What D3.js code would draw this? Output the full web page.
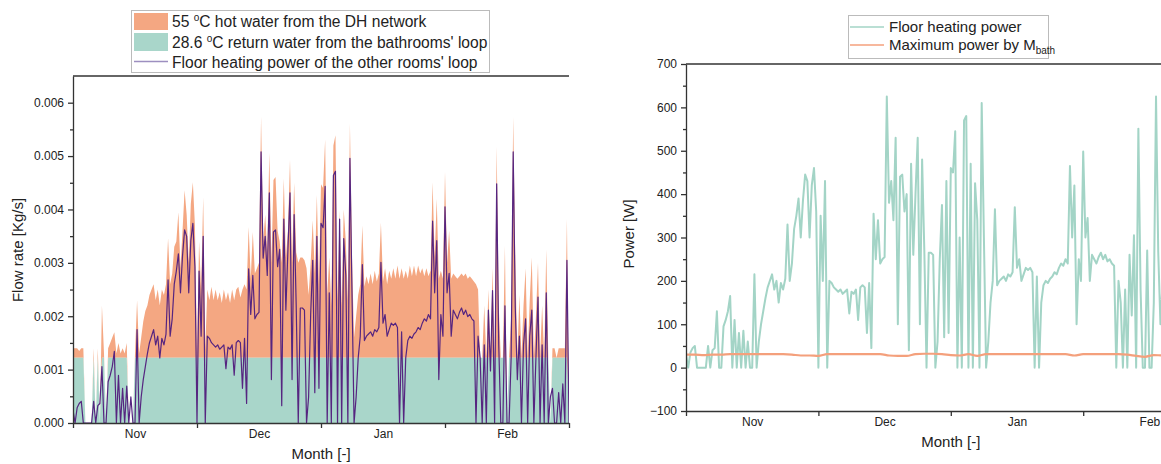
<!DOCTYPE html>
<html>
<head>
<meta charset="utf-8">
<script src="https://cdn.jsdelivr.net/npm/d3@7"></script>
<style>
  body { margin: 0; background: #fff; }
  text { font-family: "Liberation Sans", Arial, sans-serif; fill: #222; }
  .axis path, .axis line { stroke: #333; stroke-width: 1.3; }
  .axis text { font-size: 12px; fill: #222; }
  .title { font-size: 15px; }
  .legend text { font-size: 15px; }
  .legend.wide text { font-size: 15.6px; }
</style>
</head>
<body>
<svg id="chart" width="1161" height="464"></svg>
<script>
// month axis (days from 1 Nov, equal month widths as in the source figure)
const months = ['Nov', 'Dec', 'Jan', 'Feb']
const monthBounds = [0, 30, 60, 90, 120]
const monthMids = [15, 45, 75, 105]

const flowTicks = [0, 0.001, 0.002, 0.003, 0.004, 0.005, 0.006]
const flowMinorTicks = [0.0005, 0.0015, 0.0025, 0.0035, 0.0045, 0.0055]
const powerTicks = [-100, 0, 100, 200, 300, 400, 500, 600, 700]
const powerMinorTicks = [-50, 50, 150, 250, 350, 450, 550, 650]

// samples every half day
const sampleDays = 0.5

// floor heating power of the other rooms' loop [W]
const floorPower = [
  30, 0, 35, 45, 50, 0, 0, 0, 0, 0, 50, 0, 40, 45, 130, 0, 0, 95, 110, 130,
  165, 0, 110, 0, 80, 0, 85, 0, 60, 0, 0, 215, 0, 60, 100, 130, 160, 185, 200, 215,
  180, 200, 150, 195, 180, 205, 330, 200, 240, 320, 350, 390, 300, 385, 445, 430, 300, 420, 460, 360,
  0, 350, 200, 430, 0, 200, 195, 185, 180, 175, 180, 170, 175, 180, 125, 175, 170, 180, 110, 185,
  190, 185, 80, 195, 45, 355, 250, 340, 240, 250, 255, 625, 380, 430, 340, 530, 100, 440, 445, 360,
  400, 40, 470, 260, 400, 530, 100, 480, 270, 0, 265, 265, 260, 0, 60, 250, 375, 70, 430, 80,
  460, 450, 545, 0, 300, 0, 570, 580, 0, 470, 0, 425, 340, 0, 610, 300, 0, 60, 150, 200,
  365, 190, 200, 205, 210, 200, 215, 210, 220, 370, 230, 250, 200, 215, 230, 225, 230, 220, 0, 210,
  0, 150, 190, 200, 195, 205, 210, 220, 215, 230, 240, 235, 250, 240, 465, 300, 420, 100, 250, 200,
  498, 300, 345, 200, 260, 250, 240, 255, 265, 250, 260, 245, 250, 240, 235, 0, 200, 150, 0, 180,
  0, 260, 120, 305, 0, 551, 180, 0, 0, 270, 0, 0, 150, 625, 267, 100, 200, 0, 180, 240,
  0, 200, 260, 0, 150, 290, 0, 180, 0, 300, 0, 60, 80, 0, 0, 70, 0, 90, 0, 375, 0
]

// total supply flow (hot water + bathroom return) [1e-3 kg/s]
const totalFlowMilli = [
  1.4, 1.4, 1.4, 1.35, 1.4, 1.4, 0, 0, 0, 0, 1.4, 0, 1.4, 0, 2.2, 1.3, 0, 1.4, 1.5, 1.6,
  1.7, 1.3, 1.5, 1.3, 1.4, 1.3, 1.5, 0, 0, 0, 1.3, 2.3, 1.3, 1.6, 1.9, 2.1, 2.2, 2.4, 2.5, 2.6,
  2.3, 2.5, 2.2, 2.5, 2.4, 2.6, 3.46, 2.6, 2.8, 3.3, 3.4, 3.95, 2.9, 3.6, 4.36, 3.9, 3.0, 4.1, 4.51, 3.7,
  1.3, 3.4, 2.5, 4.23, 1.4, 2.5, 2.3, 2.55, 2.3, 2.5, 2.3, 2.45, 2.25, 2.5, 2.3, 2.45, 2.25, 2.5, 2.3, 2.5,
  2.55, 2.35, 2.5, 2.6, 2.5, 3.67, 2.7, 3.58, 2.8, 2.9, 3.0, 5.74, 3.4, 3.9, 3.2, 5.06, 3.0, 4.55, 4.61, 3.6,
  3.4, 3.0, 4.58, 3.1, 3.6, 4.93, 3.0, 4.5, 3.2, 3.0, 3.1, 3.1, 3.05, 2.9, 2.4, 3.0, 3.8, 2.8, 4.27, 2.6,
  4.47, 4.4, 5.31, 2.4, 3.1, 2.2, 5.2, 5.39, 2.3, 3.98, 2.2, 4.0, 3.4, 2.3, 5.61, 3.1, 1.6, 2.0, 2.4, 2.6,
  3.7, 2.55, 2.75, 2.6, 2.8, 2.6, 2.85, 2.65, 2.8, 3.75, 2.65, 2.9, 2.6, 2.85, 2.7, 2.9, 2.7, 2.95, 2.7, 2.9,
  2.7, 2.85, 2.7, 2.95, 2.75, 2.95, 2.75, 2.95, 2.8, 2.9, 2.75, 2.9, 2.75, 2.85, 4.51, 3.1, 4.2, 2.7, 2.85, 2.7,
  4.7, 3.0, 3.6, 2.7, 2.8, 2.75, 2.7, 2.75, 2.8, 2.75, 2.8, 2.7, 2.75, 2.7, 2.65, 2.6, 2.5, 1.22, 1.22, 2.2,
  1.22, 2.5, 1.22, 2.9, 1.22, 5.18, 2.2, 1.22, 1.22, 3.32, 0, 1.22, 2.0, 5.73, 3.1, 1.22, 2.4, 1.22, 2.2, 2.9,
  1.22, 2.3, 3.1, 1.22, 2.0, 3.0, 1.22, 2.2, 1.22, 3.25, 1.22, 0, 1.4, 1.4, 1.22, 1.4, 1.4, 1.4, 1.4, 3.82, 0
]

// bathrooms' loop return flow when running [kg/s]
const bathLoopFlow = 0.00122
// other rooms' loop: W per kg/s (cp * dT)
const wattsPerFlow = 123000

// maximum power by M_bath [W], every 2 days
const bathMaxDays = 2
const bathMaxPower = [
  30, 30, 29, 30, 30, 31, 31, 31, 31, 31, 31, 31, 30, 28, 28, 27, 31, 31, 31, 31,
  31, 31, 31, 28, 27, 27, 31, 32, 32, 31, 29, 28, 31, 27, 31, 31, 31, 31, 31, 31,
  31, 31, 31, 31, 28, 31, 31, 31, 31, 31, 30, 27, 25, 29, 28, 30, 30, 30, 30, 30, 30
]

const legendLeft = [
  ['55 ', 'o', 'C hot water from the DH network'],
  ['28.6 ', 'o', 'C return water from the bathrooms\' loop'],
  ['Floor heating power of the other rooms\' loop']
]
const legendRight = ['Floor heating power', 'Maximum power by M', 'bath']

const colors = {
  hot: '#f4a782',
  bath: '#a9d6ca',
  purple: '#562580',
  purpleLegend: '#9d8fc0',
  teal: '#a3d4c6',
  orange: '#f4a07c'
}

const samples = floorPower.map((p, i) => ({
  day: i * sampleDays,
  power: p,
  total: totalFlowMilli[i] / 1000
}))
const bathSamples = bathMaxPower.map((p, i) => ({ day: i * bathMaxDays, power: p }))

const svg = d3.select('#chart')

// ---------- left chart ----------
const xL = d3.scaleLinear().domain([0, 120]).range([73, 569])
const yL = d3.scaleLinear().domain([0, 0.0065]).range([423, 76])

svg.append('clipPath').attr('id', 'clipL').append('rect')
  .attr('x', 73).attr('y', 76).attr('width', 496).attr('height', 347)

const gL = svg.append('g').attr('clip-path', 'url(#clipL)')
const bathTop = d => d.total > 0 ? Math.min(d.total, bathLoopFlow) : 0

gL.append('path').datum(samples)
  .attr('fill', colors.hot)
  .attr('d', d3.area().x(d => xL(d.day)).y0(d => yL(bathTop(d))).y1(d => yL(d.total)))

gL.append('path').datum(samples)
  .attr('fill', colors.bath)
  .attr('d', d3.area().x(d => xL(d.day)).y0(yL(0)).y1(d => yL(bathTop(d))))

gL.append('path').datum(samples)
  .attr('fill', 'none').attr('stroke', colors.purple).attr('stroke-width', 1.2)
  .attr('stroke-linejoin', 'round')
  .attr('d', d3.line().x(d => xL(d.day)).y(d => yL(d.power / wattsPerFlow)))

function monthAxes (g, x, y0) {
  g.append('g').attr('class', 'axis').attr('transform', `translate(0,${y0})`)
    .call(d3.axisBottom(x).tickValues(monthBounds).tickSize(5).tickSizeOuter(0).tickFormat(''))
  const lab = g.append('g').attr('class', 'axis').attr('transform', `translate(0,${y0})`)
    .call(d3.axisBottom(x).tickValues(monthMids).tickSize(0).tickPadding(6).tickFormat((d, i) => months[i]))
  lab.select('.domain').remove()
}

monthAxes(svg, xL, 423)

svg.append('g').attr('class', 'axis').attr('transform', 'translate(73,0)')
  .call(d3.axisLeft(yL).tickValues(flowTicks).tickSize(5).tickSizeOuter(0).tickPadding(4).tickFormat(d3.format('.3f')))
svg.append('g').attr('class', 'axis').attr('transform', 'translate(73,0)')
  .call(d3.axisLeft(yL).tickValues(flowMinorTicks).tickSize(3).tickSizeOuter(0).tickFormat(''))
  .select('.domain').remove()

svg.append('line').attr('x1', xL(0)).attr('x2', xL(120)).attr('y1', yL(0.0065)).attr('y2', yL(0.0065))
  .attr('stroke', '#333').attr('stroke-width', 1.3)

svg.append('text').attr('class', 'title').attr('text-anchor', 'middle')
  .attr('x', (xL(0) + xL(120)) / 2).attr('y', 459).text('Month [-]')
svg.append('text').attr('class', 'title').attr('text-anchor', 'middle')
  .attr('transform', 'translate(23,250) rotate(-90)').text('Flow rate [Kg/s]')

// left legend
const lgL = svg.append('g').attr('class', 'legend wide')
lgL.append('rect').attr('x', 131.5).attr('y', 10.5).attr('width', 358).attr('height', 62)
  .attr('fill', '#fff').attr('stroke', '#bbb')
lgL.append('rect').attr('x', 134).attr('y', 13).attr('width', 34).attr('height', 17).attr('fill', colors.hot)
lgL.append('rect').attr('x', 134).attr('y', 33).attr('width', 34).attr('height', 18).attr('fill', colors.bath)
lgL.append('line').attr('x1', 134).attr('x2', 168).attr('y1', 61.5).attr('y2', 61.5)
  .attr('stroke', colors.purpleLegend).attr('stroke-width', 1.3)
legendLeft.forEach((parts, i) => {
  const t = lgL.append('text').attr('x', 172).attr('y', 27.3 + i * 20.3)
  if (parts.length === 3) {
    t.append('tspan').text(parts[0])
    t.append('tspan').attr('font-size', 10).attr('dy', -6).text(parts[1])
    t.append('tspan').attr('dy', 6).text(parts[2])
  } else {
    t.text(parts[0])
  }
})

// ---------- right chart ----------
const xR = d3.scaleLinear().domain([0, 120]).range([686, 686 + 4 * 132.4])
const yR = d3.scaleLinear().domain([-100, 700]).range([411, 64])

svg.append('clipPath').attr('id', 'clipR').append('rect')
  .attr('x', 686).attr('y', 64).attr('width', 480).attr('height', 347)

const gR = svg.append('g').attr('clip-path', 'url(#clipR)')
gR.append('path').datum(samples)
  .attr('fill', 'none').attr('stroke', colors.teal).attr('stroke-width', 2)
  .attr('stroke-linejoin', 'round')
  .attr('d', d3.line().x(d => xR(d.day)).y(d => yR(d.power)))
gR.append('path').datum(bathSamples)
  .attr('fill', 'none').attr('stroke', colors.orange).attr('stroke-width', 2.2)
  .attr('d', d3.line().curve(d3.curveMonotoneX).x(d => xR(d.day)).y(d => yR(d.power)))

monthAxes(svg, xR, 411)

svg.append('g').attr('class', 'axis').attr('transform', 'translate(686,0)')
  .call(d3.axisLeft(yR).tickValues(powerTicks).tickSize(5).tickSizeOuter(0).tickPadding(4))
svg.append('g').attr('class', 'axis').attr('transform', 'translate(686,0)')
  .call(d3.axisLeft(yR).tickValues(powerMinorTicks).tickSize(3).tickSizeOuter(0).tickFormat(''))
  .select('.domain').remove()

svg.append('line').attr('x1', xR(0)).attr('x2', 1161).attr('y1', yR(700)).attr('y2', yR(700))
  .attr('stroke', '#333').attr('stroke-width', 1.3)

svg.append('text').attr('class', 'title').attr('text-anchor', 'middle')
  .attr('x', (xR(0) + xR(120)) / 2).attr('y', 447).text('Month [-]')
svg.append('text').attr('class', 'title').attr('text-anchor', 'middle')
  .attr('transform', 'translate(634,234) rotate(-90)').text('Power [W]')

// right legend
const lgR = svg.append('g').attr('class', 'legend')
lgR.append('rect').attr('x', 848.5).attr('y', 15.5).attr('width', 200).attr('height', 43)
  .attr('fill', '#fff').attr('stroke', '#bbb')
lgR.append('line').attr('x1', 850).attr('x2', 884).attr('y1', 27).attr('y2', 27)
  .attr('stroke', colors.teal).attr('stroke-width', 1.5)
lgR.append('line').attr('x1', 850).attr('x2', 884).attr('y1', 45).attr('y2', 45)
  .attr('stroke', colors.orange).attr('stroke-width', 1.5)
lgR.append('text').attr('x', 889).attr('y', 32).text(legendRight[0])
const tb = lgR.append('text').attr('x', 889).attr('y', 50)
tb.append('tspan').text(legendRight[1])
tb.append('tspan').attr('font-size', 10).attr('dy', 4).text(legendRight[2])
</script>
</body>
</html>
